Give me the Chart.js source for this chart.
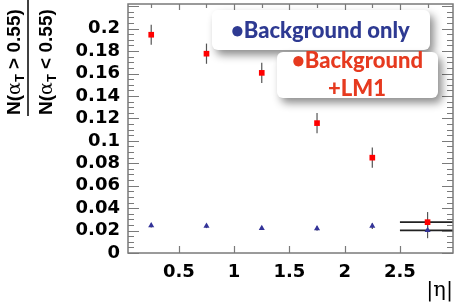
<!DOCTYPE html>
<html>
<head>
<meta charset="utf-8">
<script src="https://cdn.jsdelivr.net/npm/chart.js@4.4.1/dist/chart.umd.min.js"></script>
<style>
  body { margin: 0; background: #fff; }
  #c { display: block; }
</style>
</head>
<body>
<canvas id="c" width="463" height="303"></canvas>
<script>
// Data
const etaBins = [0.25, 0.75, 1.25, 1.75, 2.25, 2.75];
const etaErr = [0, 0, 0, 0, 0, 0.25];
const bgOnly = [0.0246, 0.024, 0.0221, 0.0219, 0.024, 0.0202];
const bgOnlyErr = [0.0018, 0.0018, 0.0015, 0.002, 0.0025, 0.007];
const bgLM1 = [0.1946, 0.1777, 0.1606, 0.1158, 0.085, 0.0275];
const bgLM1Err = [0.009, 0.009, 0.009, 0.009, 0.009, 0.009];

const xTickValues = [0.5, 1, 1.5, 2, 2.5];
const yTickValues = [0, 0.02, 0.04, 0.06, 0.08, 0.1, 0.12, 0.14, 0.16, 0.18, 0.2];

const tickFont = { family: "'DejaVu Sans'", size: 18, weight: "bold" };
const axisGray = "#7a7a7a";

// error bars (drawn through the scales)
const errorBars = {
  id: "errorBars",
  beforeDatasetsDraw(chart) {
    const { ctx, scales } = chart;
    const area = chart.chartArea;
    ctx.save();
    chart.data.datasets.forEach((ds) => {
      ds.data.forEach((p, i) => {
        const x = scales.x.getPixelForValue(p.x);
        const y = scales.y.getPixelForValue(p.y);
        const ey = ds.yErr[i];
        const ex = ds.xErr[i];
        ctx.strokeStyle = "#555";
        ctx.lineWidth = 1.2;
        ctx.beginPath();
        ctx.moveTo(x, scales.y.getPixelForValue(p.y - ey));
        ctx.lineTo(x, scales.y.getPixelForValue(p.y + ey));
        ctx.stroke();
        if (ex > 0) {
          ctx.strokeStyle = "#222";
          ctx.lineWidth = 1.6;
          ctx.beginPath();
          ctx.moveTo(scales.x.getPixelForValue(p.x - ex), y);
          ctx.lineTo(Math.min(area.right, scales.x.getPixelForValue(p.x + ex)), y);
          ctx.stroke();
        }
      });
    });
    ctx.restore();
  },
};

// frame with inward ticks, ROOT style
const frame = {
  id: "frame",
  afterDatasetsDraw(chart) {
    const { ctx, scales } = chart;
    const a = chart.chartArea;
    ctx.save();
    ctx.strokeStyle = axisGray;
    ctx.lineWidth = 1.5;
    ctx.strokeRect(a.left, a.top, a.right - a.left, a.bottom - a.top);
    ctx.lineWidth = 1.2;
    ctx.beginPath();
    for (let v = 0; v <= scales.y.max + 1e-9; v += 0.005) {
      const y = Math.round(scales.y.getPixelForValue(v)) + 0.5;
      const major = Math.abs(v / 0.02 - Math.round(v / 0.02)) < 1e-6;
      const len = major ? 11 : 6;
      ctx.moveTo(a.left, y);
      ctx.lineTo(a.left + len, y);
      ctx.moveTo(a.right, y);
      ctx.lineTo(a.right - len, y);
    }
    for (let v = 0.25; v < scales.x.max; v += 0.25) {
      const x = Math.round(scales.x.getPixelForValue(v)) + 0.5;
      const major = Math.abs(v / 0.5 - Math.round(v / 0.5)) < 1e-6;
      if (major) {
        ctx.moveTo(x, a.bottom);
        ctx.lineTo(x, a.bottom - 7);
      }
      ctx.moveTo(x, a.top);
      ctx.lineTo(x, a.top + (major ? 6 : 4));
    }
    ctx.stroke();
    ctx.restore();
  },
};

// y title: ratio written as a fraction, and |eta| on x
const titles = {
  id: "titles",
  afterDraw(chart) {
    const { ctx } = chart;
    const a = chart.chartArea;
    const drawRatio = (baseX, sign) => {
      ctx.save();
      ctx.translate(baseX, 115);
      ctx.rotate(-Math.PI / 2);
      ctx.fillStyle = "#000";
      ctx.textBaseline = "alphabetic";
      let x = 0;
      const part = (txt, font, dy) => {
        ctx.font = font;
        ctx.fillText(txt, x, dy || 0);
        x += ctx.measureText(txt).width;
      };
      part("N(", "bold 19px 'Liberation Sans'");
      part("α", "19px 'DejaVu Serif'");
      part("T", "bold 13px 'Liberation Sans'", 4);
      part(" " + sign + " 0.55)", "bold 19px 'Liberation Sans'");
      ctx.restore();
    };
    drawRatio(20, ">");
    drawRatio(52, "<");
    ctx.save();
    ctx.strokeStyle = "#000";
    ctx.lineWidth = 1.5;
    ctx.beginPath();
    ctx.moveTo(28, 0);
    ctx.lineTo(28, 116);
    ctx.stroke();
    ctx.font = "21px 'DejaVu Serif'";
    ctx.textAlign = "right";
    ctx.textBaseline = "middle";
    ctx.fillStyle = "#000";
    ctx.fillText("|η|", a.right, 291);
    ctx.restore();
  },
};

// legend boxes with soft shadow
const legendBoxes = {
  id: "legendBoxes",
  afterDraw(chart) {
    const { ctx } = chart;
    const ds = chart.data.datasets;
    const box = (x, y, w, h) => {
      ctx.save();
      ctx.shadowColor = "rgba(0,0,0,0.45)";
      ctx.shadowBlur = 9;
      ctx.shadowOffsetX = 4;
      ctx.shadowOffsetY = 5;
      ctx.fillStyle = "#fff";
      ctx.beginPath();
      ctx.roundRect(x, y, w, h, 6);
      ctx.fill();
      ctx.restore();
    };
    box(212, 10, 218, 40);
    box(277, 52, 161, 46);
    ctx.save();
    ctx.font = "900 22px Lato";
    ctx.textBaseline = "alphabetic";
    ctx.textAlign = "left";
    ctx.fillStyle = "#2e3a92";
    ctx.fillText("•" + ds[0].label, 231, 38);
    ctx.fillStyle = "#e63a1f";
    ctx.fillText("•" + ds[1].label.split("\n")[0], 292, 68);
    ctx.textAlign = "center";
    ctx.fillText(ds[1].label.split("\n")[1], 357, 96);
    ctx.restore();
  },
};

new Chart(document.getElementById("c"), {
  type: "scatter",
  data: {
    datasets: [
      {
        label: "Background only",
        data: etaBins.map((x, i) => ({ x: x, y: bgOnly[i] })),
        yErr: bgOnlyErr,
        xErr: etaErr,
        pointStyle: "triangle",
        pointRadius: 3.5,
        backgroundColor: "#333399",
        borderColor: "#333399",
        borderWidth: 0,
      },
      {
        label: "Background\n+LM1",
        data: etaBins.map((x, i) => ({ x: x, y: bgLM1[i] })),
        yErr: bgLM1Err,
        xErr: etaErr,
        pointStyle: "rect",
        pointRadius: 4,
        backgroundColor: "#ff0000",
        borderColor: "#ff0000",
        borderWidth: 0,
      },
    ],
  },
  options: {
    responsive: false,
    animation: false,
    layout: { padding: { top: 4, right: 10, left: 0, bottom: 0 } },
    plugins: { legend: { display: false }, tooltip: { enabled: false } },
    scales: {
      x: {
        type: "linear",
        min: 0.04,
        max: 2.98,
        afterBuildTicks: (s) => { s.ticks = xTickValues.map((v) => ({ value: v })); },
        afterFit: (s) => { s.height = 50; s.paddingLeft = 0; s.paddingRight = 0; },
        ticks: { font: tickFont, color: "#000", padding: 9, maxRotation: 0, autoSkip: false,
          callback: (v) => String(v) },
        grid: { drawOnChartArea: false, drawTicks: false },
        border: { display: false },
      },
      y: {
        min: 0,
        max: 0.222,
        afterBuildTicks: (s) => { s.ticks = yTickValues.map((v) => ({ value: v })); },
        afterFit: (s) => { s.width = 128; s.paddingTop = 0; s.paddingBottom = 0; },
        ticks: { font: tickFont, color: "#000", padding: 8, autoSkip: false,
          callback: (v) => String(+v.toFixed(2)) },
        grid: { drawOnChartArea: false, drawTicks: false },
        border: { display: false },
      },
    },
  },
  plugins: [errorBars, frame, titles, legendBoxes],
});
</script>
</body>
</html>
